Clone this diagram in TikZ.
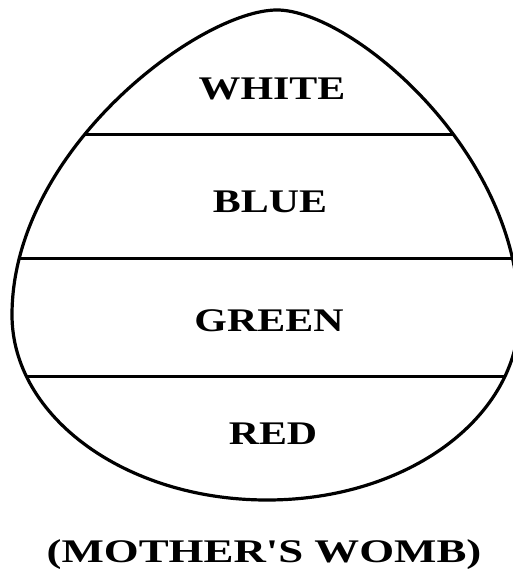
\documentclass[tikz,border=0pt]{standalone}
\usepackage{fontspec}
\newfontfamily\lbfont{Liberation Serif}
\begin{document}
\begin{tikzpicture}[x=1pt,y=-1pt,
  lbl/.style={font=\lbfont\fontsize{33}{36}\selectfont\bfseries, xscale=1.27, inner sep=0pt},
  outline/.style={line width=3.2pt},
  band/.style={line width=3pt}]
\useasboundingbox (0,0) rectangle (513,572);
\def\eggpath{(277,10) .. controls (200,10) and (12,150) .. (12,315)
  .. controls (12,417) and (126,500) .. (267,500)
  .. controls (408,500) and (519,417) .. (519,315)
  .. controls (519,150) and (350,10) .. (277,10) -- cycle}
\begin{scope}
  \clip \eggpath;
  \draw[band] (0,135) -- (530,135);
  \draw[band] (0,258) -- (530,258);
  \draw[band] (0,376) -- (530,376);
\end{scope}
\draw[outline] \eggpath;
\node[lbl] (white) at (272,89) {WHITE};
\node[lbl] (blue) at (270,202) {BLUE};
\node[lbl] (green) at (269,321) {GREEN};
\node[lbl] (red) at (273,434) {RED};
\node[lbl, xscale=1.07] (womb) at (264,555) {(MOTHER'S WOMB)};
\end{tikzpicture}
\end{document}
